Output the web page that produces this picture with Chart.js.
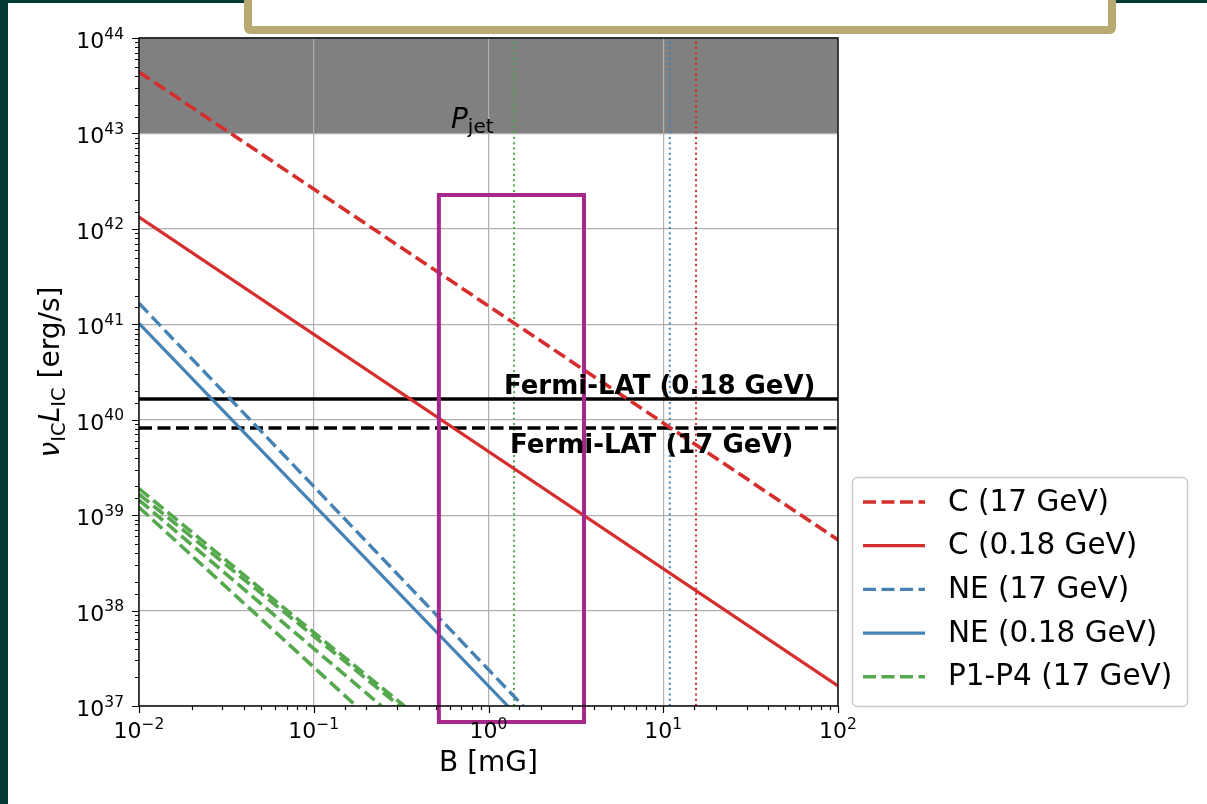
<!DOCTYPE html>
<html>
<head>
<meta charset="utf-8">
<script src="https://cdn.jsdelivr.net/npm/chart.js@4.4.1/dist/chart.umd.min.js"></script>
<style>
  html, body { margin: 0; padding: 0; background: #fff; }
  body { width: 1207px; height: 804px; position: relative; overflow: hidden; }
  #plot { position: absolute; left: 0; top: 0; }
  .edge-left { position: absolute; left: 0; top: 0; width: 8px; height: 804px; background: #033a35; }
  .edge-top { position: absolute; left: 0; top: 0; width: 1207px; height: 3px; background: #033a35; }
  .eq-box { position: absolute; left: 244px; top: -12px; width: 856px; height: 30px;
            border: 8px solid #b9aa73; border-radius: 6px; background: #fff; }
</style>
</head>
<body>
<canvas id="plot" width="1207" height="804"></canvas>
<div class="edge-top"></div>
<div class="edge-left"></div>
<div class="eq-box"></div>
<script>
// ---------------- data ----------------
const xLim = [0.01, 100]
const yLim = [1e37, 1e44]
const xTickExp = [-2, -1, 0, 1, 2]
const yTickExp = [37, 38, 39, 40, 41, 42, 43, 44]

// B [mG] and nu_IC L_IC [erg/s]
const bC17 = [0.01, 100]
const lC17 = [4.4e43, 5.5e38]
const bC018 = [0.01, 100]
const lC018 = [1.33e42, 1.62e37]
const bNE17 = [0.01, 1.58]
const lNE17 = [1.66e41, 1e37]
const bNE018 = [0.01, 1.29]
const lNE018 = [1.02e41, 1e37]
const bP1 = [0.01, 0.1, 0.33]
const lP1 = [1.9e39, 5.9e37, 1e37]
const bP2 = [0.01, 0.1, 0.31]
const lP2 = [1.66e39, 5.4e37, 1e37]
const bP3 = [0.01, 0.1, 0.244]
const lP3 = [1.44e39, 4.0e37, 1e37]
const bP4 = [0.01, 0.1, 0.175]
const lP4 = [1.21e39, 2.55e37, 1e37]

// Fermi-LAT limits (horizontal)
const fermiB = [0.01, 100]
const fermi018 = [1.65e40, 1.65e40]
const fermi17 = [8.2e39, 8.2e39]

// vertical dotted B values
const vSpan = [1e37, 1e44]
const bLimP = [1.40, 1.40]
const bLimNE = [10.9, 10.9]
const bLimC = [15.4, 15.4]

// P_jet band and highlighted box
const pjetBand = [1e43, 1e44]
const boxB = [0.52, 0.52, 3.52, 3.52, 0.52]
const boxL = [6.8e36, 2.26e42, 2.26e42, 6.8e36, 6.8e36]

// ---------------- styling ----------------
const RED = "#d62d2d"
const BLUE = "#4682b4"
const GREEN = "#55a84e"
const MAGENTA = "#a6298a"
const FONT = '"DejaVu Sans"'
const DASH = [13, 5.5]

Chart.defaults.font.family = FONT

function isMajor(v) {
    const e = Math.log10(v)
    return Math.abs(e - Math.round(e)) < 1e-6
}
function pts(xs, ys) {
    return xs.map((x, i) => ({x: x, y: ys[i]}))
}
function series(label, xs, ys, color, dash, width, order, extra) {
    return Object.assign({
        label: label,
        data: pts(xs, ys),
        borderColor: color,
        backgroundColor: color,
        borderWidth: width,
        borderDash: dash,
        pointRadius: 0,
        pointHoverRadius: 0,
        fill: false,
        tension: 0,
        order: order
    }, extra || {})
}

const datasets = [
    series("box", boxB, boxL, MAGENTA, [], 4, 0, {clip: false, borderJoinStyle: "miter", borderCapStyle: "square"}),
    series("C (17 GeV)", bC17, lC17, RED, DASH, 3.6, 1, {inLegend: true}),
    series("C (0.18 GeV)", bC018, lC018, RED, [], 3.2, 2, {inLegend: true}),
    series("NE (17 GeV)", bNE17, lNE17, BLUE, DASH, 3.4, 3, {inLegend: true}),
    series("NE (0.18 GeV)", bNE018, lNE018, BLUE, [], 3.2, 4, {inLegend: true}),
    series("P1-P4 (17 GeV)", bP1, lP1, GREEN, DASH, 3.6, 5, {inLegend: true}),
    series("P2", bP2, lP2, GREEN, DASH, 3.6, 5),
    series("P3", bP3, lP3, GREEN, DASH, 3.6, 5),
    series("P4", bP4, lP4, GREEN, DASH, 3.6, 5),
    series("Fermi 0.18", fermiB, fermi018, "#000", [], 3.4, 6),
    series("Fermi 17", fermiB, fermi17, "#000", DASH, 3.4, 6),
    series("vP", bLimP, vSpan, GREEN, [2, 3.3], 2, 7),
    series("vNE", bLimNE, vSpan, BLUE, [2, 3.3], 2, 7),
    series("vC", bLimC, vSpan, RED, [2, 3.3], 2, 7)
]

// ---------------- plugins ----------------
const bandPlugin = {
    id: "band",
    beforeDraw(chart) {
        const {ctx, chartArea: a, scales: {y}} = chart
        const top = y.getPixelForValue(pjetBand[1])
        const bot = y.getPixelForValue(pjetBand[0])
        ctx.save()
        ctx.fillStyle = "#808080"
        ctx.fillRect(a.left, top, a.right - a.left, bot - top)
        ctx.restore()
    }
}

function richWidth(ctx, parts) {
    let w = 0
    parts.forEach(p => { ctx.font = p.f; w += ctx.measureText(p.t).width })
    return w
}
function drawRich(ctx, parts, x, y, align) {
    const w = richWidth(ctx, parts)
    let cx = align === "center" ? x - w / 2 : align === "right" ? x - w : x
    parts.forEach(p => {
        ctx.font = p.f
        ctx.fillText(p.t, cx, y + (p.dy || 0))
        cx += ctx.measureText(p.t).width
    })
}
function powParts(e) {
    return [
        {t: "10", f: "22px " + FONT},
        {t: String(e).replace("-", "\u2212"), f: "15.5px " + FONT, dy: -9.5}
    ]
}

const decorPlugin = {
    id: "decor",
    afterDatasetsDraw(chart) {
        const {ctx, chartArea: a, scales: {x, y}} = chart
        ctx.save()
        // tick marks (major + minor), outside
        ctx.strokeStyle = "#000"
        ctx.lineWidth = 1.2
        ctx.beginPath()
        x.ticks.forEach(t => {
            const px = Math.round(x.getPixelForValue(t.value)) + 0.5
            const len = isMajor(t.value) ? 7 : 4
            ctx.moveTo(px, a.bottom)
            ctx.lineTo(px, a.bottom + len)
        })
        y.ticks.forEach(t => {
            const py = Math.round(y.getPixelForValue(t.value)) + 0.5
            const len = isMajor(t.value) ? 7 : 4
            ctx.moveTo(a.left, py)
            ctx.lineTo(a.left - len, py)
        })
        ctx.stroke()
        // spines
        ctx.lineWidth = 1.4
        ctx.strokeRect(a.left, a.top, a.right - a.left, a.bottom - a.top)

        // tick labels
        ctx.fillStyle = "#000"
        ctx.textBaseline = "alphabetic"
        ctx.textAlign = "left"
        xTickExp.forEach(e => {
            drawRich(ctx, powParts(e), x.getPixelForValue(Math.pow(10, e)), a.bottom + 32, "center")
        })
        yTickExp.forEach(e => {
            drawRich(ctx, powParts(e), a.left - 15, y.getPixelForValue(Math.pow(10, e)) + 10, "right")
        })

        // annotations
        ctx.font = 'bold 26px ' + FONT
        ctx.fillText("Fermi-LAT (0.18 GeV)", x.getPixelForValue(1.227), y.getPixelForValue(1.86e40))
        ctx.fillText("Fermi-LAT (17 GeV)", x.getPixelForValue(1.327), y.getPixelForValue(4.48e39))
        drawRich(ctx, [
            {t: "P", f: "italic 28px " + FONT},
            {t: "jet", f: "20px " + FONT, dy: 5}
        ], x.getPixelForValue(0.61), y.getPixelForValue(1.14e43), "left")
        ctx.restore()
    },
    afterDraw(chart) {
        const {ctx, chartArea: a, data} = chart
        ctx.save()
        ctx.fillStyle = "#000"
        ctx.textBaseline = "alphabetic"
        ctx.textAlign = "left"
        // x label
        drawRich(ctx, [{t: "B [mG]", f: "28px " + FONT}], (a.left + a.right) / 2, 771, "center")
        // y label (rotated)
        ctx.translate(59, (a.top + a.bottom) / 2)
        ctx.rotate(-Math.PI / 2)
        drawRich(ctx, [
            {t: "\u03bd", f: "italic 28px " + FONT},
            {t: "IC", f: "19.6px " + FONT, dy: 6},
            {t: "L", f: "italic 28px " + FONT},
            {t: "IC", f: "19.6px " + FONT, dy: 6},
            {t: " [erg/s]", f: "28px " + FONT}
        ], 0, 0, "center")
        ctx.restore()

        // legend
        const items = data.datasets.filter(d => d.inLegend)
        const lx = 852, ly = 477, lw = 335, lh = 229
        ctx.save()
        ctx.beginPath()
        ctx.roundRect(lx + 0.5, ly + 0.5, lw, lh, 5)
        ctx.fillStyle = "rgba(255,255,255,0.85)"
        ctx.fill()
        ctx.strokeStyle = "#cccccc"
        ctx.lineWidth = 1.5
        ctx.stroke()
        items.forEach((d, i) => {
            const cy = 502 + i * 43.7
            ctx.beginPath()
            ctx.setLineDash(d.borderDash || [])
            ctx.strokeStyle = d.borderColor
            ctx.lineWidth = d.borderWidth
            ctx.moveTo(863, cy)
            ctx.lineTo(925, cy)
            ctx.stroke()
            ctx.setLineDash([])
            ctx.fillStyle = "#000"
            ctx.font = "29.5px " + FONT
            ctx.textBaseline = "middle"
            ctx.fillText(d.label, 948, cy + 1)
        })
        ctx.restore()
    }
}

// ---------------- chart ----------------
const ctx = document.getElementById("plot").getContext("2d")
const chart = new Chart(ctx, {
    type: "line",
    data: {datasets: datasets},
    options: {
        responsive: false,
        animation: false,
        devicePixelRatio: 1,
        events: [],
        layout: {padding: {left: 0, top: 38, right: 369, bottom: 0}},
        plugins: {legend: {display: false}, tooltip: {enabled: false}},
        scales: {
            x: {
                type: "logarithmic",
                min: xLim[0],
                max: xLim[1],
                afterFit: s => { s.height = 98 },
                border: {display: false},
                grid: {
                    drawTicks: false,
                    lineWidth: 1.2,
                    color: c => (c.tick && isMajor(c.tick.value)) ? "#b0b0b0" : "rgba(0,0,0,0)"
                },
                ticks: {display: false, autoSkip: false}
            },
            y: {
                type: "logarithmic",
                min: yLim[0],
                max: yLim[1],
                afterFit: s => { s.width = 139 },
                border: {display: false},
                grid: {
                    drawTicks: false,
                    lineWidth: 1.2,
                    color: c => (c.tick && isMajor(c.tick.value)) ? "#b0b0b0" : "rgba(0,0,0,0)"
                },
                ticks: {display: false, autoSkip: false}
            }
        }
    },
    plugins: [bandPlugin, decorPlugin]
})
</script>
</body>
</html>
